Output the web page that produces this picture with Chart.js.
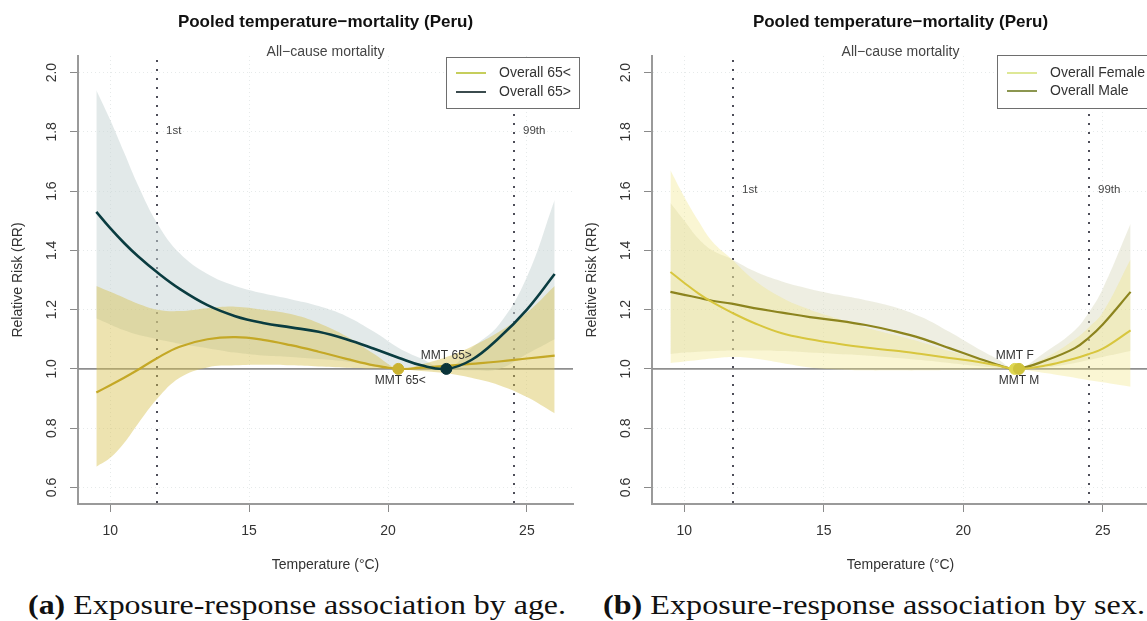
<!DOCTYPE html>
<html><head><meta charset="utf-8">
<script src="https://cdn.jsdelivr.net/npm/chart.js@4.4.0/dist/chart.umd.min.js"></script>
<style>
html,body{margin:0;padding:0;background:#fff;width:1147px;height:621px;overflow:hidden;position:relative}
canvas{position:absolute;top:0}
#cA{left:0}
#cB{left:580px}
.cap{position:absolute;top:591px;font-family:"Liberation Serif","DejaVu Serif",serif;font-size:28px;line-height:28px;color:#111;white-space:nowrap;transform-origin:0 0}
</style></head><body>
<canvas id="cA" width="580" height="580"></canvas>
<canvas id="cB" width="620" height="580"></canvas>
<div class="cap" id="capA"><b>(a)</b> Exposure-response association by age.</div>
<div class="cap" id="capB"><b>(b)</b> Exposure-response association by sex.</div>
<script>
// ---------- data ----------
const xTicks = [10, 15, 20, 25];
const yTicks = [0.6, 0.8, 1.0, 1.2, 1.4, 1.6, 1.8, 2.0];
const xLimits = [8.84, 26.66];
const yLimits = [0.544, 2.056];

// Panel (a): by age
const tempAge   = [9.5, 10, 10.5, 11, 11.7, 12.5, 13.5, 14.5, 15.5, 16.5, 17.5, 18.5, 19.5, 20.4, 21.2, 22.1, 23, 24, 25, 26];
const rrOld     = [1.53, 1.475, 1.425, 1.38, 1.325, 1.27, 1.215, 1.178, 1.155, 1.14, 1.125, 1.10, 1.068, 1.037, 1.012, 1.0, 1.03, 1.105, 1.20, 1.32];
const rrOldHi   = [1.94, 1.84, 1.73, 1.62, 1.49, 1.39, 1.32, 1.28, 1.255, 1.235, 1.212, 1.178, 1.125, 1.07, 1.035, 1.0, 1.07, 1.15, 1.31, 1.57];
const rrOldLo   = [1.17, 1.15, 1.13, 1.115, 1.10, 1.085, 1.07, 1.055, 1.045, 1.04, 1.033, 1.025, 1.015, 1.006, 1.002, 1.0, 0.995, 1.0, 1.05, 1.10];
const rrYoung   = [0.92, 0.945, 0.97, 0.997, 1.037, 1.075, 1.10, 1.107, 1.098, 1.08, 1.058, 1.034, 1.012, 1.0, 1.004, 1.01, 1.017, 1.025, 1.035, 1.045];
const rrYoungHi = [1.28, 1.26, 1.24, 1.22, 1.20, 1.195, 1.205, 1.21, 1.20, 1.185, 1.155, 1.11, 1.05, 1.0, 1.015, 1.04, 1.075, 1.125, 1.19, 1.28];
const rrYoungLo = [0.67, 0.70, 0.75, 0.815, 0.90, 0.97, 1.005, 1.012, 1.014, 1.012, 1.008, 1.004, 1.001, 1.0, 0.993, 0.985, 0.97, 0.945, 0.905, 0.85];
const pctAge    = [11.7, 24.55];
const mmtAge    = [20.37, 22.1];
const mmtAgeLabels = ['MMT 65<', 'MMT 65>'];
const legendAge = ['Overall 65<', 'Overall 65>'];

// Panel (b): by sex
const tempSex    = [9.5, 10, 10.5, 11, 11.7, 12.5, 13.5, 14.5, 15.5, 16.5, 17.5, 18.5, 19.5, 20.5, 21.2, 21.9, 23, 24, 24.5, 25, 26];
const rrFemale   = [1.327, 1.29, 1.255, 1.225, 1.19, 1.155, 1.12, 1.10, 1.085, 1.072, 1.062, 1.05, 1.037, 1.024, 1.012, 1.0, 1.012, 1.035, 1.05, 1.068, 1.13];
const rrFemaleHi = [1.67, 1.58, 1.50, 1.43, 1.37, 1.30, 1.24, 1.20, 1.17, 1.14, 1.115, 1.09, 1.06, 1.035, 1.015, 1.0, 1.04, 1.10, 1.14, 1.19, 1.37];
const rrFemaleLo = [1.02, 1.025, 1.03, 1.035, 1.04, 1.035, 1.02, 1.005, 0.998, 0.995, 0.995, 0.995, 0.996, 0.998, 0.999, 1.0, 0.985, 0.97, 0.962, 0.955, 0.94];
const rrMale     = [1.26, 1.25, 1.24, 1.23, 1.22, 1.205, 1.19, 1.175, 1.163, 1.148, 1.128, 1.103, 1.07, 1.037, 1.015, 1.0, 1.03, 1.07, 1.105, 1.15, 1.26];
const rrMaleHi   = [1.56, 1.50, 1.44, 1.40, 1.37, 1.33, 1.295, 1.27, 1.25, 1.232, 1.21, 1.175, 1.125, 1.07, 1.035, 1.0, 1.06, 1.13, 1.19, 1.27, 1.49];
const rrMaleLo   = [1.05, 1.055, 1.058, 1.06, 1.062, 1.062, 1.06, 1.055, 1.05, 1.045, 1.038, 1.03, 1.02, 1.01, 1.004, 1.0, 1.005, 1.02, 1.03, 1.04, 1.06];
const pctSex     = [11.75, 24.5];
const mmtSex     = [21.85, 22.0];
const mmtSexLabels = ['MMT F', 'MMT M'];
const legendSex  = ['Overall Female', 'Overall Male'];

const pctLabels = ['1st', '99th'];
const titleText = 'Pooled temperature\u2212mortality (Peru)';
const subText = 'All\u2212cause mortality';
const xTitle = 'Temperature (\u00B0C)';
const yTitle = 'Relative Risk (RR)';

// ---------- helpers ----------
const FONT = '"Liberation Sans", Arial, sans-serif';
const TENSION = 0.4;
const pts = (xs, ys) => xs.map((x, i) => ({x: x, y: ys[i]}));

function band(xs, lo, hi, color, order) {
  return [
    {data: pts(xs, lo), borderWidth: 0, pointRadius: 0, fill: false, order: order, tension: TENSION},
    {data: pts(xs, hi), borderWidth: 0, pointRadius: 0, fill: '-1', backgroundColor: color, order: order, tension: TENSION}
  ];
}
function curve(xs, ys, color, w, order) {
  return {data: pts(xs, ys), borderColor: color, borderWidth: w, pointRadius: 0, fill: false, order: order, tension: TENSION};
}
function dot(x, color, order) {
  return {type: 'scatter', data: [{x: x, y: 1}], pointRadius: 5.5, pointBackgroundColor: color, pointBorderColor: color, pointBorderWidth: 1, order: order, showLine: false};
}

function makeChart(id, p) {
  const overlay = {
    id: 'overlay' + id,
    beforeDatasetsDraw(chart) {
      const {ctx, chartArea: a, scales: {x, y}} = chart;
      ctx.save();
      ctx.strokeStyle = '#8f8f8f'; ctx.lineWidth = 1.6;
      const y1 = y.getPixelForValue(1);
      ctx.beginPath(); ctx.moveTo(a.left, y1); ctx.lineTo(a.right, y1); ctx.stroke();
      ctx.strokeStyle = '#4d4d58'; ctx.lineWidth = 2; ctx.setLineDash([2, 7]);
      p.pct.forEach(v => {
        const px = Math.round(x.getPixelForValue(v));
        ctx.beginPath(); ctx.moveTo(px, a.top + 4); ctx.lineTo(px, a.bottom); ctx.stroke();
      });
      ctx.restore();
    },
    afterDatasetsDraw(chart) {
      const {ctx, scales: {x, y}} = chart;
      ctx.save();
      ctx.font = '12px ' + FONT; ctx.fillStyle = '#333'; ctx.textAlign = 'center'; ctx.textBaseline = 'middle';
      const y1 = y.getPixelForValue(1);
      p.mmt.forEach((v, i) => {
        ctx.fillText(p.mmtLabels[i], x.getPixelForValue(v) + p.mmtDx[i], y1 + p.mmtDy[i]);
      });
      ctx.restore();
    },
    afterDraw(chart) {
      const {ctx, chartArea: a, scales: {x, y}} = chart;
      const cx = (a.left + a.right) / 2;
      ctx.save();
      ctx.textAlign = 'center'; ctx.textBaseline = 'middle';
      ctx.fillStyle = '#111'; ctx.font = 'bold 17px ' + FONT;
      ctx.fillText(titleText, cx, 22);
      ctx.fillStyle = '#444'; ctx.font = '14px ' + FONT;
      ctx.fillText(subText, cx, 52);
      ctx.fillStyle = '#333';
      ctx.fillText(xTitle, cx, 565);
      yTicks.forEach(v => {
        ctx.save();
        ctx.translate(a.left - 26, y.getPixelForValue(v));
        ctx.rotate(-Math.PI / 2);
        ctx.fillText(v.toFixed(1), 0, 0);
        ctx.restore();
      });
      ctx.save();
      ctx.translate(a.left - 60, 280);
      ctx.rotate(-Math.PI / 2);
      ctx.fillText(yTitle, 0, 0);
      ctx.restore();
      ctx.textAlign = 'left'; ctx.font = '11.5px ' + FONT; ctx.fillStyle = '#444';
      p.pct.forEach((v, i) => ctx.fillText(pctLabels[i], Math.round(x.getPixelForValue(v)) + 9, p.pctY));
      const L = p.legend;
      ctx.fillStyle = '#fff';
      ctx.fillRect(L.x, L.y, L.w, L.h);
      ctx.strokeStyle = '#6e6e6e'; ctx.lineWidth = 1;
      ctx.strokeRect(L.x + 0.5, L.y + 0.5, L.w, L.h);
      ctx.font = '14px ' + FONT;
      p.legendLabels.forEach((t, i) => {
        const yy = L.y + L.rows[i];
        ctx.strokeStyle = p.legendColors[i]; ctx.lineWidth = 2;
        ctx.beginPath(); ctx.moveTo(L.x + 10, yy); ctx.lineTo(L.x + 40, yy); ctx.stroke();
        ctx.fillStyle = '#333';
        ctx.fillText(t, L.x + 53, yy);
      });
      ctx.restore();
    }
  };

  const gridOpts = {color: 'rgba(140,160,160,0.22)', lineWidth: 1, tickLength: 8, tickColor: '#8a8a8a', tickWidth: 1, tickBorderDash: []};
  const canvas = document.getElementById(id);
  return new Chart(canvas, {
    type: 'line',
    data: {datasets: p.datasets},
    options: {
      responsive: false, animation: false, devicePixelRatio: 1,
      layout: {padding: {left: p.padLeft, right: p.padRight, top: 56, bottom: 0}},
      plugins: {legend: {display: false}, tooltip: {enabled: false}},
      scales: {
        x: {
          type: 'linear', min: xLimits[0], max: xLimits[1],
          afterBuildTicks: s => { s.ticks = xTicks.map(v => ({value: v})); },
          afterFit: s => { s.height = 76; },
          ticks: {font: {size: 14, family: FONT}, color: '#333', padding: 11, maxRotation: 0},
          grid: gridOpts,
          border: {display: true, color: '#9a9a9a', width: 2, dash: [1, 3]}
        },
        y: {
          type: 'linear', min: yLimits[0], max: yLimits[1],
          afterBuildTicks: s => { s.ticks = yTicks.map(v => ({value: v})); },
          afterFit: s => { s.width = p.axisX; },
          ticks: {display: false},
          grid: gridOpts,
          border: {display: true, color: '#9a9a9a', width: 2, dash: [1, 3]}
        }
      }
    },
    plugins: [overlay]
  });
}

// ---------- panel (a) ----------
const dsA = [].concat(
  band(tempAge, rrOldLo, rrOldHi, 'rgba(200,212,212,0.52)', 10),
  band(tempAge, rrYoungLo, rrYoungHi, 'rgba(214,194,80,0.45)', 9),
  [curve(tempAge, rrYoung, 'rgb(196,168,38)', 2.2, 4),
   curve(tempAge, rrOld, 'rgb(10,60,64)', 2.6, 3),
   dot(mmtAge[0], 'rgb(202,178,48)', 2),
   dot(mmtAge[1], 'rgb(10,52,58)', 1)]
);
makeChart('cA', {
  datasets: dsA, axisX: 78, padLeft: 0, padRight: 7,
  pct: pctAge, pctY: 131,
  mmt: mmtAge, mmtLabels: mmtAgeLabels, mmtDx: [2, 0], mmtDy: [12, -13],
  legend: {x: 446, y: 57, w: 133, h: 51, rows: [16, 35]},
  legendLabels: legendAge, legendColors: ['rgb(198,206,92)', '#3b4b4e']
});

// ---------- panel (b) ----------
const dsB = [].concat(
  band(tempSex, rrMaleLo, rrMaleHi, 'rgba(214,214,186,0.42)', 10),
  band(tempSex, rrFemaleLo, rrFemaleHi, 'rgba(240,228,120,0.33)', 9),
  [curve(tempSex, rrMale, 'rgb(140,132,30)', 2.2, 4),
   curve(tempSex, rrFemale, 'rgb(216,198,62)', 2.0, 3),
   dot(mmtSex[0], 'rgb(222,214,80)', 2),
   dot(mmtSex[1], 'rgb(206,194,60)', 1)]
);
makeChart('cB', {
  datasets: dsB, axisX: 72, padLeft: 0, padRight: 51,
  pct: pctSex, pctY: 190,
  mmt: mmtSex, mmtLabels: mmtSexLabels, mmtDx: [0, 0], mmtDy: [-13, 12],
  legend: {x: 417, y: 55, w: 170, h: 53, rows: [18, 36]},
  legendLabels: legendSex, legendColors: ['rgb(222,232,150)', 'rgb(140,150,80)']
});

// ---------- captions ----------
function fitCap(id, left, width) {
  const el = document.getElementById(id);
  el.style.left = left + 'px';
  const w = el.getBoundingClientRect().width;
  el.style.transform = 'scaleX(' + (width / w) + ')';
}
fitCap('capA', 28, 538);
fitCap('capB', 603, 542);
</script>
</body></html>
